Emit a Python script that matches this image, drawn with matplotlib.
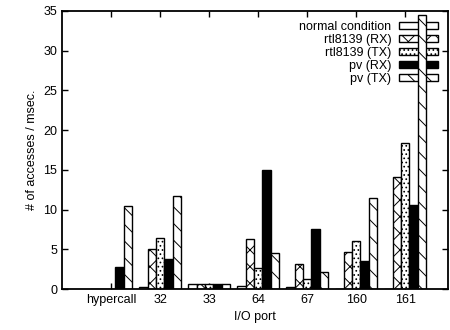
import matplotlib
matplotlib.use('Agg')
import matplotlib.pyplot as plt
import numpy as np

plt.rcParams['font.family'] = ['Liberation Sans', 'DejaVu Sans']
plt.rcParams['hatch.linewidth'] = 0.7

ports = ['hypercall', '32', '33', '64', '67', '160', '161']
series = ['normal condition', 'rtl8139 (RX)', 'rtl8139 (TX)', 'pv (RX)', 'pv (TX)']
normal = [0.0, 0.2, 0.7, 0.4, 0.2, 0.0, 0.0]
rtl_rx = [0.0, 5.0, 0.7, 6.3, 3.1, 4.7, 14.1]
rtl_tx = [0.0, 6.4, 0.7, 2.6, 1.3, 6.1, 18.4]
pv_rx = [2.8, 3.8, 0.7, 15.0, 7.5, 3.5, 10.6]
pv_tx = [10.5, 11.7, 0.7, 4.5, 2.2, 11.4, 34.5]

values = [normal, rtl_rx, rtl_tx, pv_rx, pv_tx]
hatches = ['', 'xx', '....', '', '\\\\']
faces = ['white', 'white', 'white', 'black', 'white']

fig = plt.figure(figsize=(4.5, 3.3), dpi=100)
ax = fig.add_axes([0.138, 0.124, 0.858, 0.843])

x = np.arange(len(ports))
w = 0.17
for i, (vals, name) in enumerate(zip(values, series)):
    ax.bar(x + (i - 2) * w, vals, w, color=faces[i], edgecolor='black',
           hatch=hatches[i], linewidth=1.0, label=name, zorder=2)

ax.set_xlim(-1, 6.88)
ax.set_ylim(0, 35)
ax.set_xticks(x)
ax.set_xticklabels(ports, fontsize=9)
ax.set_yticks(np.arange(0, 36, 5))
ax.tick_params(axis='y', labelsize=9)
ax.tick_params(direction='in', top=True, right=True, length=4, width=1)
for s in ax.spines.values():
    s.set_linewidth(1.3)

ax.set_xlabel('I/O port', fontsize=9)
ax.set_ylabel('# of accesses / msec.', fontsize=9)

leg = ax.legend(loc='upper right', bbox_to_anchor=(0.992, 0.99), frameon=False,
                markerfirst=False, fontsize=9, handlelength=3.1, handleheight=0.5,
                labelspacing=0.08, borderaxespad=0.2, handletextpad=0.6)
leg.set_zorder(1)

plt.savefig('out.png', dpi=100)
